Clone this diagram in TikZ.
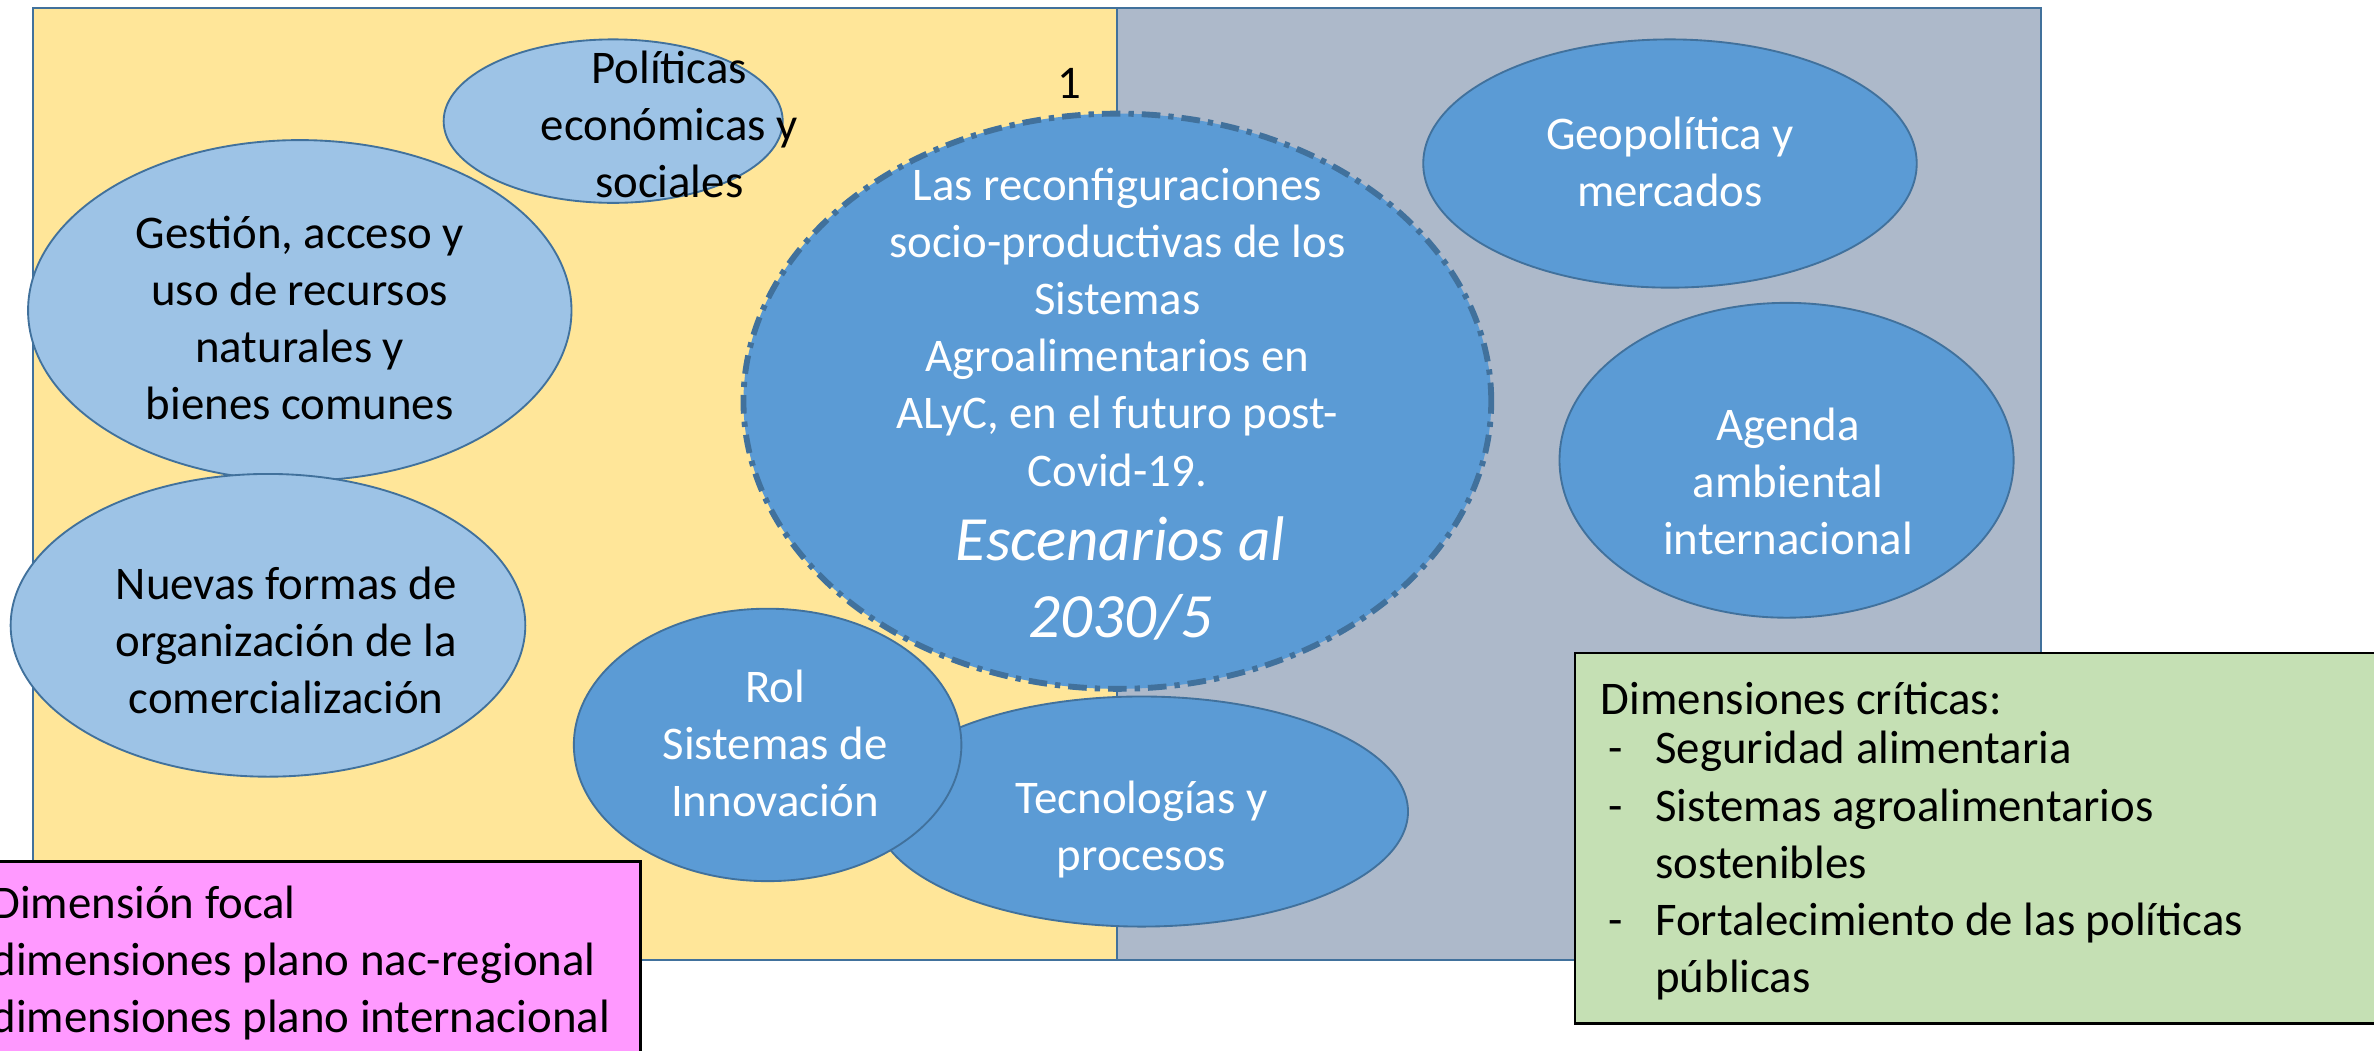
\documentclass[tikz,border=0pt]{standalone}
\usepackage{fontspec}
\setmainfont{Carlito}
\usepackage{tikz}
\usetikzlibrary{shapes.geometric,positioning}
\usepackage{xcolor}
\definecolor{goldbg}{HTML}{FFE699}
\definecolor{greybg}{HTML}{ADB9CA}
\definecolor{lightblue}{HTML}{9DC3E6}
\definecolor{midblue}{HTML}{5B9BD5}
\definecolor{edgeblue}{HTML}{41719C}
\definecolor{pinkbox}{HTML}{FF99FF}
\definecolor{greenbox}{HTML}{C5E0B4}
\newcommand{\critem}[1]{\makebox[0.72cm][l]{\hspace{0.1cm}-}#1}

\begin{document}
\begin{tikzpicture}[x=0.02cm,y=-0.02cm,
    every node/.style={font=\fontsize{17.6}{21.5}\selectfont},
    dim/.style={ellipse,draw=edgeblue,line width=0.7pt,inner sep=0pt},
    nac dim/.style={dim,fill=lightblue},
    int dim/.style={dim,fill=midblue},
    dim text/.style={align=center,inner sep=0pt},
    panel/.style={draw=edgeblue,line width=0.8pt}]
  \useasboundingbox (0,0) rectangle (1568,694);
  \clip (0,0) rectangle (1568,694);
  \draw[panel,fill=goldbg] (22,5) rectangle (738,634);
  \draw[panel,fill=greybg] (738,5) rectangle (1348,634);

  \node[nac dim,minimum width=4.48cm,minimum height=2.16cm] (politicas) at (405,80) {};
  \node[dim text] (politicas txt) at (442,82) {Políticas\\económicas y\\sociales};
  \node[nac dim,minimum width=7.18cm,minimum height=4.5cm] (recursos) at (198,205) {};
  \node[dim text] (recursos txt) at (198,210) {Gestión, acceso y\\uso de recursos\\naturales y\\bienes comunes};
  \node[nac dim,minimum width=6.8cm,minimum height=4cm] (comercial) at (177,413) {};
  \node[dim text] (comercial txt) at (189,423) {Nuevas formas de\\organización de la\\comercialización};

  \node[dim,fill=midblue,draw=edgeblue,line width=2.2pt,
        dash pattern=on 7pt off 3pt on 2pt off 3pt,
        minimum width=9.88cm,minimum height=7.6cm] (focal) at (738,265) {};
  \node[dim text,text=white] (focal txt) at (738,216) {Las reconfiguraciones\\socio-productivas de los\\Sistemas\\Agroalimentarios en\\ALyC, en el futuro post-\\Covid-19.};
  \node[dim text,text=white,font=\fontsize{23.7}{29}\selectfont\itshape] (escenarios) at (740,382) {Escenarios al\\2030/5};
  \node (uno) at (706,55) {1};

  \node[int dim,minimum width=7.04cm,minimum height=3.04cm] (tecno) at (754,536) {};
  \node[dim text,text=white] (tecno txt) at (754,548) {Tecnologías y\\procesos};
  \node[int dim,minimum width=5.12cm,minimum height=3.6cm] (innov) at (507,492) {};
  \node[dim text,text=white] (innov txt) at (512,491) {Rol\\Sistemas de\\Innovación};

  \node[int dim,minimum width=6.52cm,minimum height=3.28cm] (geo) at (1103,108) {};
  \node[dim text,text=white] (geo txt) at (1103,107) {Geopolítica y\\mercados};
  \node[int dim,minimum width=6cm,minimum height=4.16cm] (agenda) at (1180,304) {};
  \node[dim text,text=white] (agenda txt) at (1181,318) {Agenda\\ambiental\\internacional};

  \draw[fill=pinkbox,line width=0.8pt] (-20,569) rectangle (423,720);
  \node[align=left,inner sep=0pt,anchor=west] (legend) at (-6,636) {Dimensión focal\\dimensiones plano nac-regional\\dimensiones plano internacional};

  \draw[fill=greenbox,line width=0.8pt] (1040,431) rectangle (1580,676);
  \node[align=left,inner sep=0pt,anchor=north west] (criticas) at (1057,450) {Dimensiones críticas:\\[-2.8pt]
    \critem{Seguridad alimentaria}\\
    \critem{Sistemas agroalimentarios}\\
    \hspace*{0.72cm}sostenibles\\
    \critem{Fortalecimiento de las políticas}\\
    \hspace*{0.72cm}públicas};
\end{tikzpicture}
\end{document}
